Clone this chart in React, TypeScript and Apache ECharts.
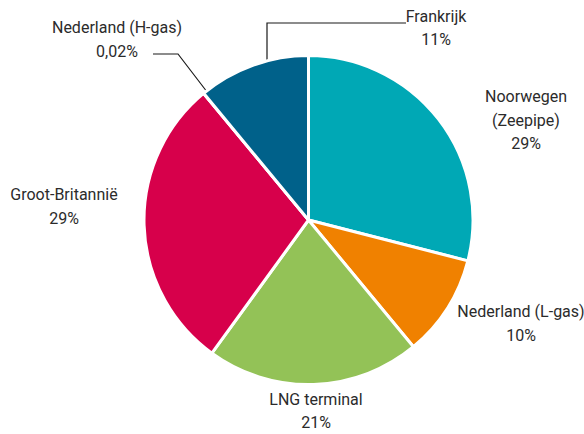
import React, { useEffect, useRef } from "react";
import * as echarts from "echarts";

const categories = [
  "Noorwegen\n(Zeepipe)",
  "Nederland (L-gas)",
  "LNG terminal",
  "Groot-Britannië",
  "Nederland (H-gas)",
  "Frankrijk",
];
const values = [29, 10, 21, 29, 0.02, 11];
const valueLabels = ["29%", "10%", "21%", "29%", "0,02%", "11%"];
const colors = ["#00a8b5", "#f08100", "#93c257", "#d7004b", "#00618a", "#00618a"];

// label placement (center of text block) and optional leader lines
const labelPos: { x: number; y: number; line?: number[][] }[] = [
  { x: 526, y: 120 },
  { x: 521, y: 323.5 },
  { x: 316, y: 411 },
  { x: 64, y: 206.5 },
  { x: 117, y: 39.5, line: [[153, 54], [178, 54], [207.5, 92.5]] },
  { x: 436, y: 28, line: [[406, 23], [267, 23], [267, 62]] },
];

export default function App() {
  const ref = useRef<HTMLDivElement>(null);
  useEffect(() => {
    document.body.style.margin = "0";
    const chart = echarts.init(ref.current!, null, { renderer: "svg" });
    chart.setOption({
      animation: false,
      backgroundColor: "#ffffff",
      series: [
        {
          type: "pie",
          center: [308.5, 220],
          radius: 164.5,
          startAngle: 90,
          clockwise: true,
          avoidLabelOverlap: false,
          itemStyle: { borderColor: "#ffffff", borderWidth: 3 },
          label: {
            show: true,
            position: "outside",
            fontFamily: "Roboto",
            fontSize: 16,
            lineHeight: 23.5,
            color: "#2b2b2b",
            align: "center",
          },
          labelLine: { show: true, lineStyle: { color: "#1a1a1a", width: 1.2 } },
          labelLayout: (params: any) => {
            const p = labelPos[params.dataIndex];
            const out: any = {
              x: p.x,
              y: p.y,
              align: "center",
              verticalAlign: "middle",
            };
            if (p.line) out.labelLinePoints = p.line;
            return out;
          },
          data: categories.map((c, i) => ({
            name: c,
            value: values[i],
            itemStyle: { color: colors[i] },
            label: { formatter: c + "\n" + valueLabels[i] },
            labelLine: { show: !!labelPos[i].line },
          })),
        },
      ],
    });
    return () => chart.dispose();
  }, []);
  return <div ref={ref} style={{ width: 584, height: 434 }} />;
}
